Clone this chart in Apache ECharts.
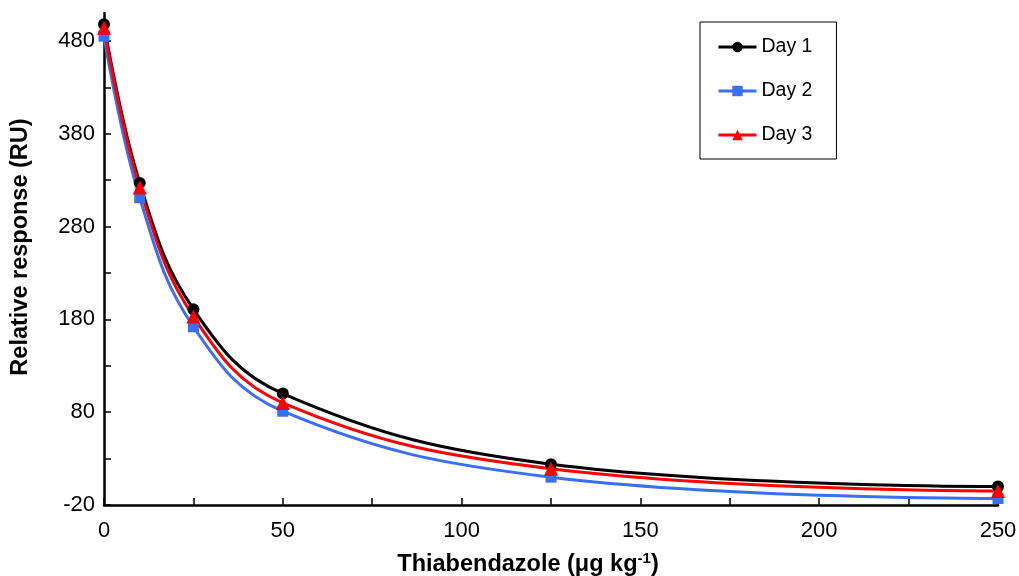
<!DOCTYPE html>
<html>
<head>
<meta charset="utf-8">
<script src="https://cdn.jsdelivr.net/npm/echarts@6/dist/echarts.min.js"></script>
<style>
  html, body { margin: 0; padding: 0; background: #fff; }
  #chart { width: 1019px; height: 576px; }
</style>
</head>
<body>
<div id="chart"></div>
<script>
// Concentrations (µg/kg) and relative responses (RU) for each day
const concentrations = [0, 10, 25, 50, 125, 250];
const day1 = [498, 327, 191, 100, 24, 0];
const day2 = [485, 311, 172, 81, 10, -13];
const day3 = [494, 322, 183, 90, 19, -5];
const seriesNames = ['Day 1', 'Day 2', 'Day 3'];
const yTickValues = [-20, 80, 180, 280, 380, 480];
const yMinorTickValues = [30, 130, 230, 330, 430];

const FONT = '"Liberation Sans", Arial, sans-serif';

function pairs(values) {
  return concentrations.map((c, i) => [c, values[i]]);
}

const chart = echarts.init(document.getElementById('chart'), null, { renderer: 'canvas' });

const lineSeries = (name, values, color, symbol, size) => ({
  name: name,
  type: 'line',
  data: pairs(values),
  smooth: 0.4,
  symbol: symbol,
  symbolSize: size,
  lineStyle: { color: color, width: 3 },
  itemStyle: { color: color },
  emphasis: { disabled: true },
  z: 3
});

chart.setOption({
  animation: false,
  backgroundColor: '#ffffff',
  grid: { left: 104, right: 21, top: 13, bottom: 71, containLabel: false, outerBoundsMode: 'none' },
  legend: {
    orient: 'vertical',
    left: 700,
    top: 22,
    padding: [15, 24, 14, 17],
    itemWidth: 38,
    itemHeight: 13,
    itemGap: 24,
    borderColor: '#000',
    borderWidth: 1,
    lineStyle: { width: 3 },
    textStyle: { fontFamily: FONT, fontSize: 19.5, color: '#000', padding: [0, 0, 0, 0] },
    data: seriesNames
  },
  xAxis: {
    type: 'value',
    min: 0,
    max: 250,
    interval: 50,
    name: 'Thiabendazole (μg kg{sup|-1})',
    nameLocation: 'middle',
    nameGap: 46,
    nameTextStyle: {
      fontFamily: FONT, fontSize: 23.5, fontWeight: 'bold', color: '#000',
      padding: [0, 46, 0, 0],
      rich: {
        sup: { fontFamily: FONT, fontSize: 15, fontWeight: 'bold', color: '#000', verticalAlign: 'top', padding: [0, 0, 12, 0] }
      }
    },
    axisLine: { onZero: false, lineStyle: { color: '#000', width: 2.5 } },
    axisTick: { inside: true, length: 7, lineStyle: { color: '#000', width: 1.5 } },
    minorTick: { show: true, splitNumber: 2, length: 7, lineStyle: { color: '#000', width: 1.5 } },
    axisLabel: { fontFamily: FONT, fontSize: 22, color: '#000', margin: 15 },
    splitLine: { show: false }
  },
  yAxis: [{
    type: 'value',
    min: -20,
    max: 510,
    interval: 100,
    name: 'Relative response (RU)',
    nameLocation: 'middle',
    nameGap: 71,
    nameTextStyle: {
      fontFamily: FONT, fontSize: 23.5, fontWeight: 'bold', color: '#000',
      padding: [0, 0, 0, 24]
    },
    axisLine: { onZero: false, lineStyle: { color: '#000', width: 2.5 } },
    axisTick: { inside: true, length: 7, customValues: yTickValues, lineStyle: { color: '#000', width: 1.5 } },
    axisLabel: { fontFamily: FONT, fontSize: 22, color: '#000', margin: 9, customValues: yTickValues },
    splitLine: { show: false }
  }, {
    // second, label-less axis carrying the in-between ticks of the value axis
    type: 'value',
    position: 'left',
    min: -20,
    max: 510,
    axisLine: { show: false },
    axisTick: { inside: true, length: 7, customValues: yMinorTickValues, lineStyle: { color: '#000', width: 1.5 } },
    axisLabel: { show: false },
    splitLine: { show: false }
  }],
  series: [
    lineSeries(seriesNames[0], day1, '#000000', 'circle', 12),
    lineSeries(seriesNames[1], day2, '#3a6ef6', 'rect', 11),
    lineSeries(seriesNames[2], day3, '#ff0000', 'triangle', 14)
  ]
});
</script>
</body>
</html>
